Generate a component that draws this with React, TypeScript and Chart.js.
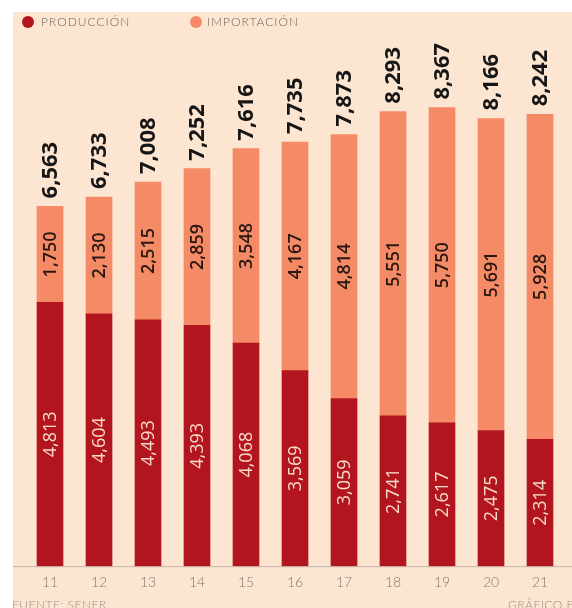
import React, { useEffect, useRef } from 'react';
import { Chart, registerables } from 'chart.js';

Chart.register(...registerables);

// ---- data ----
const years = ['11', '12', '13', '14', '15', '16', '17', '18', '19', '20', '21'];
const produccion = [4813, 4604, 4493, 4393, 4068, 3569, 3059, 2741, 2617, 2475, 2314];
const importacion = [1750, 2130, 2515, 2859, 3548, 4167, 4814, 5551, 5750, 5691, 5928];
const totales = [6563, 6733, 7008, 7252, 7616, 7735, 7873, 8293, 8367, 8166, 8242];
const seriesNames = ['PRODUCCIÓN', 'IMPORTACIÓN'];
const fuente = 'FUENTE: SENER';
const credito = 'GRÁFICO EE';

// ---- styles ----
const COLOR_PROD = '#b3151f';
const COLOR_IMP = '#f58a66';
const BG = '#fde6d1';
const GRAY = '#85786f';

const fmt = (v: number) => v.toLocaleString('en-US');

function drawRot(ctx: CanvasRenderingContext2D, text: string, x: number, y: number, align: CanvasTextAlign, font: string, color: string) {
  ctx.save();
  ctx.translate(x, y);
  ctx.rotate(-Math.PI / 2);
  ctx.font = font;
  ctx.fillStyle = color;
  ctx.textAlign = align;
  ctx.textBaseline = 'middle';
  ctx.fillText(text, 0, 1);
  ctx.restore();
}

export default function App() {
  const ref = useRef<HTMLCanvasElement>(null);

  useEffect(() => {
    const canvas = ref.current;
    if (!canvas) return;

    const axisPlugin = {
      id: 'axisLine',
      beforeDatasetsDraw(chart: any) {
        const { ctx, chartArea } = chart;
        ctx.save();
        ctx.strokeStyle = '#c2b4a8';
        ctx.lineWidth = 1;
        ctx.beginPath();
        ctx.moveTo(13, chartArea.bottom + 0.5);
        ctx.lineTo(572, chartArea.bottom + 0.5);
        ctx.stroke();
        ctx.restore();
      },
    };

    const labelsPlugin = {
      id: 'barLabels',
      afterDatasetsDraw(chart: any) {
        const ctx = chart.ctx as CanvasRenderingContext2D;
        const m0 = chart.getDatasetMeta(0);
        const m1 = chart.getDatasetMeta(1);
        years.forEach((_, i) => {
          const p = m0.data[i] as any;
          const q = m1.data[i] as any;
          drawRot(ctx, fmt(produccion[i]), p.x, (p.y + p.base) / 2, 'center', '400 18px "Open Sans"', '#f8dccb');
          drawRot(ctx, fmt(importacion[i]), q.x, (q.y + q.base) / 2, 'center', '600 18px "Open Sans"', '#2a1710');
          drawRot(ctx, fmt(totales[i]), q.x, q.y - 8, 'left', '700 22px "Open Sans"', '#161616');
        });
      },
    };

    const chart = new Chart(canvas, {
      type: 'bar',
      data: {
        labels: years,
        datasets: [
          { label: seriesNames[0], data: produccion, backgroundColor: COLOR_PROD, borderWidth: 0, barThickness: 26 },
          { label: seriesNames[1], data: importacion, backgroundColor: COLOR_IMP, borderWidth: 0, barThickness: 26 },
        ],
      },
      options: {
        responsive: false,
        animation: false,
        devicePixelRatio: 1,
        layout: { padding: { left: 25.5, right: 7.5, top: 18, bottom: 9 } },
        plugins: {
          legend: { display: false },
          tooltip: { enabled: false },
          title: { display: false },
        },
        scales: {
          x: {
            stacked: true,
            grid: { display: false, drawTicks: false },
            border: { display: false },
            ticks: {
              color: GRAY,
              padding: 8,
              maxRotation: 0,
              font: { family: 'Lato', size: 14, weight: '300' },
            },
          },
          y: {
            stacked: true,
            display: false,
            min: 0,
            max: 10000,
          },
        },
      },
      plugins: [axisPlugin, labelsPlugin],
    });

    return () => chart.destroy();
  }, []);

  const legendText: React.CSSProperties = {
    position: 'absolute',
    top: 14,
    fontFamily: 'Lato, sans-serif',
    fontWeight: 300,
    fontSize: 12,
    letterSpacing: 1,
    color: '#6f635b',
    lineHeight: '16px',
    whiteSpace: 'nowrap',
  };
  const dot = (color: string, left: number): React.CSSProperties => ({
    position: 'absolute',
    left,
    top: 16,
    width: 12,
    height: 12,
    borderRadius: 6,
    background: color,
  });
  const srcText: React.CSSProperties = {
    position: 'absolute',
    top: 598,
    fontFamily: 'Lato, sans-serif',
    fontWeight: 300,
    fontSize: 12,
    letterSpacing: 0.5,
    color: '#9a8d84',
    lineHeight: '14px',
    whiteSpace: 'nowrap',
  };

  return (
    <div style={{ position: 'fixed', left: 0, top: 0, width: 572, height: 608, background: '#ffffff', overflow: 'hidden' }}>
      <div style={{ position: 'absolute', left: 13, top: 12, width: 580, height: 620, background: BG }} />
      <canvas ref={ref} width={572} height={608} style={{ position: 'absolute', left: 0, top: 0, width: 572, height: 608 }} />
      <div style={dot(COLOR_PROD, 22)} />
      <div style={{ ...legendText, left: 41 }}>{seriesNames[0]}</div>
      <div style={dot(COLOR_IMP, 190)} />
      <div style={{ ...legendText, left: 207 }}>{seriesNames[1]}</div>
      <div style={{ ...srcText, left: 12 }}>{fuente}</div>
      <div style={{ ...srcText, left: 508 }}>{credito}</div>
    </div>
  );
}
